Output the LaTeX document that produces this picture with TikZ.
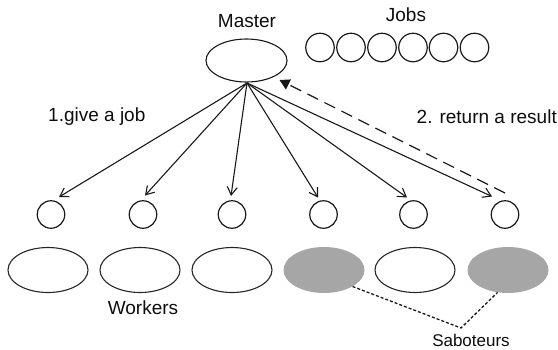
\documentclass[tikz,border=0pt]{standalone}
\usepackage{fontspec}
\setmainfont{Liberation Sans}
\usetikzlibrary{shapes.geometric,arrows.meta}
\begin{document}
\begin{tikzpicture}[x=1pt,y=-1pt,
  lbl/.style={font=\fontsize{19}{22}\selectfont, text=black!95, inner sep=0pt},
  bigell/.style={ellipse, draw=black!85, line width=1.1pt, minimum width=80pt, minimum height=45pt, inner sep=0pt},
  sab/.style={ellipse, fill=black!35, minimum width=81pt, minimum height=46pt, inner sep=0pt},
  smallc/.style={circle, draw=black!90, line width=1.2pt, minimum size=27.5pt, inner sep=0pt},
  jobc/.style={circle, draw=black!90, line width=1.2pt, minimum size=28.5pt, inner sep=0pt},
  give/.style={draw=black!90, line width=1.1pt, -{Straight Barb[length=8pt,width=10pt,line width=1.1pt]}},
  ret/.style={draw=black!90, line width=1.2pt, dash pattern=on 12pt off 7pt, -{Triangle[length=10pt,width=11pt]}},
  sabline/.style={draw=black!90, line width=1.3pt, dash pattern=on 3pt off 2pt}]
\useasboundingbox (0,0) rectangle (558,349);
% master
\node[ellipse, draw=black!90, line width=1.1pt, minimum width=81pt, minimum height=43pt, inner sep=0pt] (m) at (246.5,60.5) {};
\node[lbl, anchor=base] (mt) at (247,27) {Master};
% jobs
\node[lbl, anchor=base] (jt) at (406,21) {Jobs};
\foreach \i/\x in {1/320,2/351,3/382,4/413,5/443.5,6/474.5}
  \node[jobc] (j\i) at (\x,47.5) {};
% small circles
\foreach \i/\x in {1/51,2/143,3/232,4/323.5,5/413.5,6/505}
  \node[smallc] (c\i) at (\x,214.5) {};
% big ellipses
\node[bigell] (w1) at (48,270) {};
\node[bigell] (w2) at (140,270) {};
\node[bigell] (w3) at (232,270) {};
\node[sab]    (w4) at (324,270) {};
\node[bigell] (w5) at (415,270) {};
\node[sab]    (w6) at (508,270) {};
% arrow tips
\coordinate (o) at (247,83);
\coordinate (t1) at (59,197);
\coordinate (t2) at (145,195.5);
\coordinate (t3) at (231,196);
\coordinate (t4) at (318,197.5);
\coordinate (t5) at (407,197.5);
\coordinate (t6) at (492,196.5);
\foreach \i in {1,...,6} \draw[give] (o) -- (t\i);
% return
\coordinate (rs) at (505,193);
\draw[ret] (rs) -- (279.5,80);
% labels
\node[lbl, anchor=base west] (g) at (48,121) {1.give a job};
\node[lbl, anchor=base east] (r) at (557,123) {2. return a result};
\node[lbl, anchor=base] (wt) at (143,314) {Workers};
\node[lbl, anchor=base, font=\fontsize{17}{20}\selectfont] (st) at (471,346) {Saboteurs};
% saboteur lines
\coordinate (sj) at (461,328);
\draw[sabline] (w4.-30) -- (sj) -- (w6.-115);
\end{tikzpicture}
\end{document}
